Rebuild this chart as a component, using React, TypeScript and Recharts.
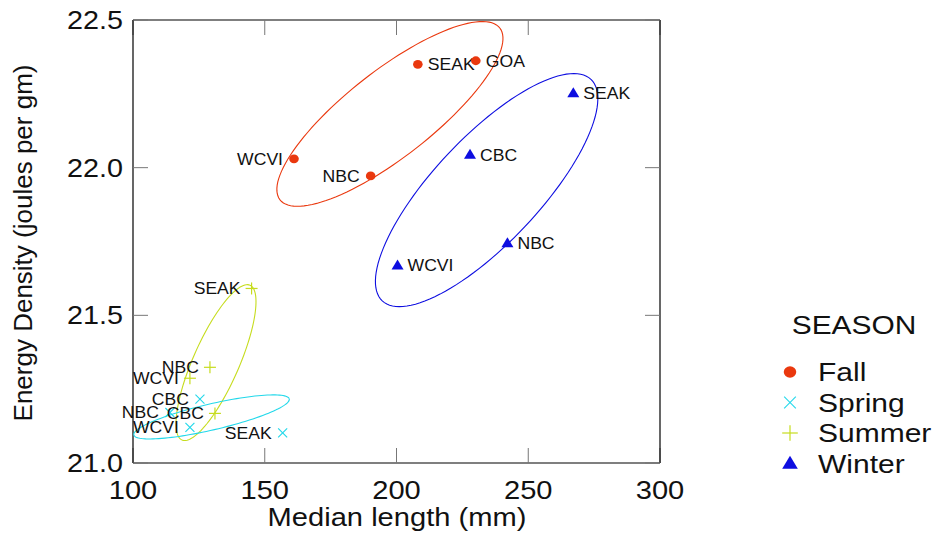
import { ScatterChart, Scatter, XAxis, YAxis } from "recharts";

const lengthTicks = [100, 150, 200, 250, 300];
const energyTicks = [21.0, 21.5, 22.0, 22.5];
const seasons = ["Fall", "Spring", "Summer", "Winter"];

const fallRegions = ["SEAK", "GOA", "WCVI", "NBC"];
const fallLength = [208.1, 230.1, 161.1, 190.2];
const fallEnergy = [22.35, 22.362, 22.03, 21.972];

const springRegions = ["CBC", "NBC", "WCVI", "SEAK"];
const springLength = [125.4, 114.0, 121.6, 156.8];
const springEnergy = [21.216, 21.171, 21.121, 21.102];

const summerRegions = ["SEAK", "NBC", "WCVI", "CBC"];
const summerLength = [145.0, 129.2, 121.6, 131.1];
const summerEnergy = [21.591, 21.324, 21.287, 21.168];

const winterRegions = ["SEAK", "CBC", "NBC", "WCVI"];
const winterLength = [267.1, 227.9, 242.1, 200.4];
const winterEnergy = [22.252, 22.044, 21.744, 21.669];

// ellipses: centre plus two conjugate half-axes, in data units
const ellipseSeasons = ["Fall", "Winter", "Summer", "Spring"];
const ellipseCenterLength = [197.5, 234.2, 131.5, 129.8];
const ellipseCenterEnergy = [22.182, 21.924, 21.34, 21.156];
const ellipseMajorLength = [41.7, 39.6, 12.9, 29.5];
const ellipseMajorEnergy = [0.291, 0.375, 0.262, 0.061];
const ellipseMinorLength = [10.1, 14.6, 8.0, 1.1];
const ellipseMinorEnergy = [-0.115, -0.123, -0.031, -0.043];

const colors: Record<string, string> = {
  Fall: "#EA380E",
  Spring: "#22D8EA",
  Summer: "#C6DC1E",
  Winter: "#0D0DE0",
};

const rightLabeled = new Set(["Fall:SEAK", "Fall:GOA", "Winter:SEAK", "Winter:CBC", "Winter:NBC", "Winter:WCVI"]);

const font = "'Liberation Sans', Arial, sans-serif";

const toRows = (regions: string[], length: number[], energy: number[]) =>
  regions.map((region, i) => ({ region, length: length[i], energy: energy[i] }));

const seriesData: Record<string, { region: string; length: number; energy: number }[]> = {
  Fall: toRows(fallRegions, fallLength, fallEnergy),
  Spring: toRows(springRegions, springLength, springEnergy),
  Summer: toRows(summerRegions, summerLength, summerEnergy),
  Winter: toRows(winterRegions, winterLength, winterEnergy),
};

const ellipseOutline = (i: number) => {
  const pts = [];
  for (let k = 0; k <= 120; k++) {
    const t = (k / 120) * Math.PI * 2;
    pts.push({
      length: ellipseCenterLength[i] + ellipseMajorLength[i] * Math.cos(t) + ellipseMinorLength[i] * Math.sin(t),
      energy: ellipseCenterEnergy[i] + ellipseMajorEnergy[i] * Math.cos(t) + ellipseMinorEnergy[i] * Math.sin(t),
    });
  }
  return pts;
};

function Glyph({ season, x, y, s = 1 }: { season: string; x: number; y: number; s?: number }) {
  const c = colors[season];
  if (season === "Fall") return <ellipse cx={x} cy={y} rx={4.8 * s} ry={4.4 * s} fill={c} />;
  if (season === "Winter")
    return (
      <polygon
        points={`${x},${y - 6 * s} ${x + 6 * s},${y + 4 * s} ${x - 6 * s},${y + 4 * s}`}
        fill={c}
      />
    );
  if (season === "Summer")
    return (
      <g stroke={c} strokeWidth={1.2}>
        <line x1={x - 6 * s} y1={y} x2={x + 6 * s} y2={y} />
        <line x1={x} y1={y - 6 * s} x2={x} y2={y + 6 * s} />
      </g>
    );
  return (
    <g stroke={c} strokeWidth={1.1}>
      <line x1={x - 4.5 * s} y1={y - 4.5 * s} x2={x + 4.5 * s} y2={y + 4.5 * s} />
      <line x1={x - 4.5 * s} y1={y + 4.5 * s} x2={x + 4.5 * s} y2={y - 4.5 * s} />
    </g>
  );
}

const makeShape = (season: string) => (props: any) => {
  const { cx, cy, payload } = props;
  const right = rightLabeled.has(`${season}:${payload.region}`);
  const tx = right ? cx + 10 : cx - 11;
  return (
    <g>
      <Glyph season={season} x={cx} y={cy} />
      <text
        transform={`translate(${tx},${cy + 6}) scale(1.1,1)`}
        textAnchor={right ? "start" : "end"}
        fontSize={16}
        fontFamily={font}
        fill="#111"
      >
        {payload.region}
      </text>
    </g>
  );
};

const BottomTick = ({ x, y, payload }: any) => (
  <text
    transform={`translate(${x},${y}) scale(1.12,1)`}
    textAnchor="middle"
    fontSize={26}
    fontFamily={font}
    fill="#111"
  >
    {payload.value}
  </text>
);

const LeftTick = ({ x, y, payload }: any) => (
  <text
    transform={`translate(${x},${y + 9}) scale(1.15,1)`}
    textAnchor="end"
    fontSize={25}
    fontFamily={font}
    fill="#111"
  >
    {Number(payload.value).toFixed(1)}
  </text>
);

const NoTick = () => <g />;

export default function App() {
  return (
    <div style={{ position: "absolute", left: 0, top: 0, width: 937, height: 533, background: "#fff" }}>
      <ScatterChart width={937} height={533} margin={{ top: 0, right: 0, bottom: 0, left: 0 }}>
        <XAxis
          xAxisId="bottom"
          dataKey="length"
          type="number"
          domain={[100, 300]}
          ticks={lengthTicks}
          height={70}
          tickSize={-15}
          tickMargin={51}
          axisLine={{ stroke: "#000", strokeWidth: 1.2 }}
          tickLine={{ stroke: "#777" }}
          tick={<BottomTick />}
          interval={0}
        />
        <XAxis
          xAxisId="top"
          orientation="top"
          dataKey="length"
          type="number"
          domain={[100, 300]}
          ticks={lengthTicks}
          allowDataOverflow
          height={20}
          tickSize={-15}
          axisLine={{ stroke: "#000", strokeWidth: 1.2 }}
          tickLine={{ stroke: "#777" }}
          tick={<NoTick />}
          interval={0}
        />
        <YAxis
          yAxisId="left"
          dataKey="energy"
          type="number"
          domain={[21, 22.5]}
          ticks={energyTicks}
          width={133}
          tickSize={-15}
          tickMargin={25}
          axisLine={{ stroke: "#000", strokeWidth: 1.2 }}
          tickLine={{ stroke: "#777" }}
          tick={<LeftTick />}
          interval={0}
        />
        <YAxis
          yAxisId="right"
          orientation="right"
          dataKey="energy"
          type="number"
          domain={[21, 22.5]}
          ticks={energyTicks}
          allowDataOverflow
          width={277}
          tickSize={-15}
          axisLine={{ stroke: "#000", strokeWidth: 1.2 }}
          tickLine={{ stroke: "#777" }}
          tick={<NoTick />}
          interval={0}
        />
        {ellipseSeasons.map((season, i) => (
          <Scatter
            key={`ell-${season}`}
            xAxisId="bottom"
            yAxisId="left"
            data={ellipseOutline(i)}
            line={{ stroke: colors[season], strokeWidth: 1.1 }}
            lineType="joint"
            shape={() => <g />}
            legendType="none"
            isAnimationActive={false}
          />
        ))}
        {seasons.map((season) => (
          <Scatter
            key={season}
            name={season}
            xAxisId="bottom"
            yAxisId="left"
            data={seriesData[season]}
            shape={makeShape(season)}
            isAnimationActive={false}
          />
        ))}
      </ScatterChart>
      <svg
        width={937}
        height={533}
        style={{ position: "absolute", left: 0, top: 0, pointerEvents: "none" }}
        fontFamily={font}
      >
        <text transform="translate(397,526) scale(1.12,1)" textAnchor="middle" fontSize={26} fill="#111">
          Median length (mm)
        </text>
        <text transform="translate(32,243) rotate(-90)" textAnchor="middle" fontSize={26} fill="#111">
          Energy Density (joules per gm)
        </text>
        <text transform="translate(854,334) scale(1.15,1)" textAnchor="middle" fontSize={26} fill="#111">
          SEASON
        </text>
        {seasons.map((season, i) => {
          const y = 372 + i * 30.5;
          return (
            <g key={season}>
              <Glyph season={season} x={790} y={y} s={1.3} />
              <text transform={`translate(818,${y + 9}) scale(1.2,1)`} fontSize={25} fill="#111">
                {season}
              </text>
            </g>
          );
        })}
      </svg>
    </div>
  );
}
